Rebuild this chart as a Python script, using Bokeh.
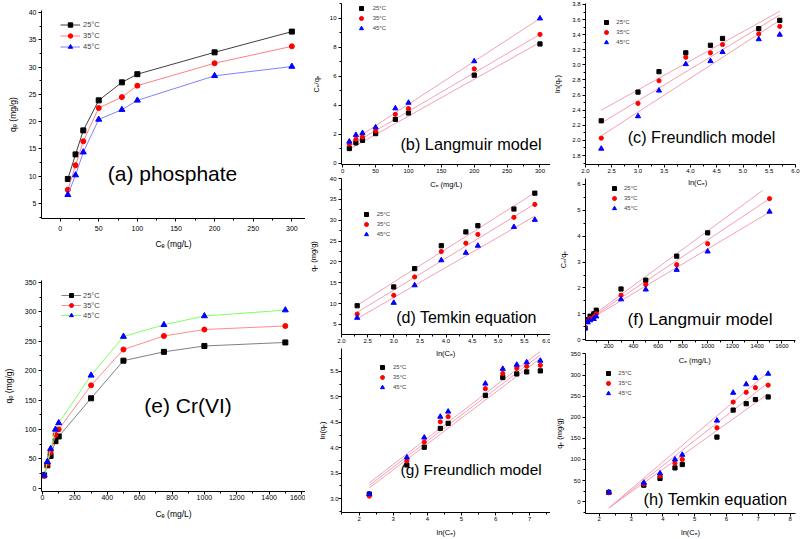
from bokeh.plotting import figure
from bokeh.layouts import row, column
from bokeh.models import Range1d, FixedTicker, Label, Legend, LegendItem, PrintfTickFormatter
from bokeh.embed import file_html
from bokeh.resources import INLINE

# ---------------- data ----------------
temps = ["25°C", "35°C", "45°C"]

# (a) phosphate isotherm  qe vs Ce
ce_p = [10, 20, 30, 50, 80, 100, 200, 300]
qe_p_25 = [9.5, 14.0, 18.4, 23.9, 27.2, 28.7, 32.7, 36.5]
qe_p_35 = [7.5, 12.0, 16.4, 22.5, 24.5, 26.6, 30.7, 33.8]
qe_p_45 = [6.6, 10.2, 14.4, 20.4, 22.2, 23.9, 28.4, 30.1]

# (b) Langmuir, phosphate  Ce/qe vs Ce
lang_p_25 = [1.03, 1.42, 1.60, 2.06, 3.04, 3.48, 6.09, 8.24]
lang_p_35 = [1.33, 1.67, 1.83, 2.24, 3.39, 3.78, 6.52, 8.90]
lang_p_45 = [1.51, 1.97, 2.10, 2.49, 3.80, 4.19, 7.05, 10.0]
b_fit_x = [10, 300]
b_fit_25 = [0.98, 8.35]
b_fit_35 = [1.21, 8.90]
b_fit_45 = [1.42, 10.0]

# (c) Freundlich, phosphate  ln(qe) vs ln(Ce)
lnce_p = [2.30, 3.00, 3.40, 3.91, 4.38, 4.61, 5.30, 5.70]
lnqe_p_25 = [2.26, 2.64, 2.91, 3.16, 3.26, 3.35, 3.48, 3.59]
lnqe_p_35 = [2.03, 2.49, 2.79, 3.10, 3.16, 3.27, 3.41, 3.51]
lnqe_p_45 = [1.89, 2.32, 2.66, 3.01, 3.05, 3.17, 3.34, 3.40]
c_fit_x = [2.3, 5.7]
c_fit_25 = [2.40, 3.71]
c_fit_35 = [2.23, 3.66]
c_fit_45 = [2.06, 3.59]

# (d) Temkin, phosphate  qe vs ln(Ce)
d_fit_x = [2.3, 5.7]
d_fit_25 = [9.6, 36.6]
d_fit_35 = [7.9, 33.9]
d_fit_45 = [6.4, 31.0]

# (e) Cr(VI) isotherm  qe vs Ce
ce_cr = [10, 30, 50, 80, 100, 300, 500, 750, 1000, 1500]
qe_cr_25 = [22, 39, 55, 80, 88, 153, 217, 232, 242, 248]
qe_cr_35 = [21, 42, 61, 91, 100, 175, 236, 259, 270, 276]
qe_cr_45 = [22, 45, 67, 100, 111, 192, 258, 278, 293, 303]

# (f) Langmuir, Cr(VI)  Ce/qe vs Ce
ce_cr_f25 = [10, 30, 50, 80, 100, 300, 500, 750, 1000]
lang_cr_25 = [0.45, 0.77, 0.91, 1.00, 1.14, 1.96, 2.30, 3.23, 4.13]
lang_cr_35 = [0.48, 0.71, 0.82, 0.88, 1.00, 1.72, 2.13, 2.90, 3.71, 5.45]
lang_cr_45 = [0.45, 0.67, 0.75, 0.80, 0.90, 1.56, 1.94, 2.70, 3.41, 4.95]
f_fit_x25 = [10, 1445]
f_fit_25 = [0.72, 5.77]
f_fit_x = [10, 1500]
f_fit_35 = [0.70, 5.45]
f_fit_45 = [0.68, 4.93]

# (g) Freundlich, Cr(VI)  ln(qe) vs ln(Ce)
lnce_cr = [2.30, 3.40, 3.91, 4.38, 4.61, 5.70, 6.21, 6.62, 6.91, 7.31]
lnqe_cr_25 = [3.09, 3.66, 4.01, 4.38, 4.48, 5.03, 5.38, 5.45, 5.49, 5.51]
lnqe_cr_35 = [3.05, 3.74, 4.11, 4.51, 4.61, 5.16, 5.46, 5.56, 5.60, 5.62]
lnqe_cr_45 = [3.09, 3.81, 4.20, 4.61, 4.71, 5.26, 5.55, 5.63, 5.68, 5.71]
g_fit_x = [2.3, 7.3]
g_fit_25 = [3.21, 5.75]
g_fit_35 = [3.26, 5.82]
g_fit_45 = [3.31, 5.89]

# (h) Temkin, Cr(VI)  qe vs ln(Ce)
h_fit_x = [2.3, 7.3]
h_fit_25 = [-15, 255]
h_fit_35 = [-15, 281]
h_fit_45 = [-15, 306]

# tick positions
ticks_a_x = [0, 50, 100, 150, 200, 250, 300]
ticks_a_y = [5, 10, 15, 20, 25, 30, 35, 40]
ticks_e_x = [0, 200, 400, 600, 800, 1000, 1200, 1400, 1600]
ticks_e_y = [0, 50, 100, 150, 200, 250, 300, 350]
ticks_b_x = [0, 50, 100, 150, 200, 250, 300]
ticks_b_y = [0, 2, 4, 6, 8, 10]
ticks_ln_p = [2.0, 2.5, 3.0, 3.5, 4.0, 4.5, 5.0, 5.5, 6.0]
ticks_c_y = [1.8, 2.0, 2.2, 2.4, 2.6, 2.8, 3.0, 3.2, 3.4, 3.6, 3.8]
ticks_d_y = [5, 10, 15, 20, 25, 30, 35, 40]
ticks_f_x = [0, 200, 400, 600, 800, 1000, 1200, 1400, 1600]
ticks_f_y = [0, 1, 2, 3, 4, 5, 6]
ticks_ln_cr = [2, 3, 4, 5, 6, 7, 8]
ticks_g_y = [3.0, 3.5, 4.0, 4.5, 5.0, 5.5]
ticks_h_y = [0, 50, 100, 150, 200, 250, 300, 350]

# ---------------- style ----------------
FONT = "Liberation Sans"
FIT = "#f4a0b4"
MK = [("square", "#000000"), ("circle", "#ff0000"), ("triangle", "#0000ff")]


def minors(t):
    step = t[1] - t[0]
    m = [t[0] - step / 2]
    m += [(a + b) / 2 for a, b in zip(t[:-1], t[1:])]
    m.append(t[-1] + step / 2)
    return m


def base_fig(w, h, bl, br, bt, bb, xr, yr):
    p = figure(width=w, height=h, x_range=Range1d(xr[0], xr[1]),
               y_range=Range1d(yr[0], yr[1]), output_backend="svg",
               toolbar_location=None, min_border_left=bl, min_border_right=br,
               min_border_top=bt, min_border_bottom=bb)
    p.outline_line_color = None
    p.xgrid.visible = False
    p.ygrid.visible = False
    return p


def set_axis(ax, ticks, label, tick_fs, lab_fs, ls, als, fmt=None):
    ax.ticker = FixedTicker(ticks=ticks, minor_ticks=minors(ticks))
    if fmt:
        ax.formatter = PrintfTickFormatter(format=fmt)
    ax.axis_label = label
    ax.axis_line_color = "black"
    ax.axis_line_width = 1
    ax.major_tick_line_color = "black"
    ax.minor_tick_line_color = "black"
    ax.major_tick_in = 0
    ax.major_tick_out = 3
    ax.minor_tick_in = 0
    ax.minor_tick_out = 2
    ax.major_label_text_font = FONT
    ax.major_label_text_font_size = tick_fs
    ax.major_label_text_color = "black"
    ax.major_label_standoff = int(round(ls))
    ax.axis_label_text_font = FONT
    ax.axis_label_text_font_size = lab_fs
    ax.axis_label_text_font_style = "normal"
    ax.axis_label_text_color = "black"
    ax.axis_label_standoff = int(round(als))


def add_legend(p, rends, loc, gw, gh, sp, standoff, fs):
    items = [LegendItem(label=t, renderers=r) for t, r in zip(temps, rends)]
    lg = Legend(items=items, location=loc, orientation="vertical", padding=0,
                spacing=int(sp), margin=0, glyph_width=int(gw),
                glyph_height=int(gh), label_height=int(gh),
                label_standoff=int(standoff), label_text_font=FONT,
                label_text_font_size=fs, border_line_color=None,
                background_fill_alpha=0)
    p.add_layout(lg)


def add_text(p, x, y, text, fs, align="center"):
    p.add_layout(Label(x=x, y=y, x_units="screen", y_units="screen", text=text,
                       text_font=FONT, text_font_size=fs, text_align=align,
                       text_baseline="middle", text_color="black"))


def scatter_sets(p, xs, ys, size):
    out = []
    for x, y, (m, c) in zip(xs, ys, MK):
        sz = size + 1 if m == "triangle" else size
        r = p.scatter(x, y, marker=m, size=sz, fill_color=c, line_color=c)
        out.append([r])
    return out


def fit_lines(p, xs, ys):
    for x, y in zip(xs, ys):
        p.line(x, y, line_color=FIT, line_width=1)


MS = 4.2  # marker size in the fit panels

# ---------------- (a) phosphate ----------------
pa = base_fig(305, 252, 36, 0, 10, 34, (-24.1, 317.7), (2.25, 40.37))
set_axis(pa.xaxis[0], ticks_a_x, "Cₑ (mg/L)", "7px", "8.5px", 4, 5)
set_axis(pa.yaxis[0], ticks_a_y, "qₑ (mg/g)", "7px", "8.5px", 2, 8)
a_line_cols = ["#404040", "#ff8080", "#8080ff"]
rends = []
for y, lc, (m, c) in zip([qe_p_25, qe_p_35, qe_p_45], a_line_cols, MK):
    rl = pa.line(ce_p, y, line_color=lc, line_width=1)
    rs = pa.scatter(ce_p, y, marker=m, size=6 if m == "triangle" else 5,
                    fill_color=c, line_color=c)
    rends.append([rl, rs])
add_legend(pa, rends, (19, 166.5), 20, 11, 0, 3, "7.5px")
add_text(pa, 131, 45, "(a) phosphate", "21px")

# ---------------- (e) Cr(VI) ----------------
pe = base_fig(305, 287, 40, 0, 28, 48, (-6.2, 1624.6), (-5.6, 353.4))
set_axis(pe.xaxis[0], ticks_e_x, "Cₑ (mg/L)", "7px", "8.5px", 0, 6)
set_axis(pe.yaxis[0], ticks_e_y, "qₑ (mg/g)", "7px", "8.5px", 2, 8)
e_line_cols = ["#808080", "#ff8c8c", "#80ff60"]
rends = []
for y, lc, (m, c) in zip([qe_cr_25, qe_cr_35, qe_cr_45], e_line_cols, MK):
    rl = pe.line(ce_cr, y, line_color=lc, line_width=1)
    rs = pe.scatter(ce_cr, y, marker=m, size=6 if m == "triangle" else 5,
                    fill_color=c, line_color=c)
    rends.append([rl, rs])
add_legend(pe, rends, (20, 170.7), 20, 10, 0, 2, "7.5px")
add_text(pe, 146.5, 86, "(e) Cr(VI)", "21px")

# ---------------- (b) Langmuir phosphate ----------------
pb = base_fig(245, 175, 32, 0, 3, 11, (-1.9, 316), (-0.07, 11.03))
set_axis(pb.xaxis[0], ticks_b_x, None, "6px", "7.5px", 1, 0)
set_axis(pb.yaxis[0], ticks_b_y, "Cₑ/qₑ", "6px", "7.5px", 2, 6)
fit_lines(pb, [b_fit_x] * 3, [b_fit_25, b_fit_35, b_fit_45])
rends = scatter_sets(pb, [ce_p] * 3, [lang_p_25, lang_p_35, lang_p_45], MS)
add_legend(pb, rends, (14.7, 131.3), 10, 10, -2, 7, "6px")
add_text(pb, 129.5, 21, "(b) Langmuir model", "16.3px")

# ---------------- (d) Temkin phosphate ----------------
pd_ = base_fig(245, 170, 32, 0, 3, 11, (2.0, 6.0), (2.6, 40.02))
set_axis(pd_.xaxis[0], ticks_ln_p, None, "6px", "7.5px", 1, 0, "%.1f")
set_axis(pd_.yaxis[0], ticks_d_y, "qₑ (mg/g)", "6px", "7.5px", 2, 9)
fit_lines(pd_, [d_fit_x] * 3, [d_fit_25, d_fit_35, d_fit_45])
rends = scatter_sets(pd_, [lnce_p] * 3, [qe_p_25, qe_p_35, qe_p_45], MS)
add_legend(pd_, rends, (19.7, 94.7), 10, 10, -2, 6, "6px")
add_text(pd_, 125, 17, "(d) Temkin equation", "16px")
add_text(pd_, 104.7, 150, "Cₑ (mg/L)", "7.5px")   # x-axis title of (b)

# ---------------- (g) Freundlich Cr(VI) ----------------
pg = base_fig(245, 194, 34, 0, 3, 26, (1.486, 7.608), (2.727, 5.95))
set_axis(pg.xaxis[0], ticks_ln_cr, "ln(Cₑ)", "6px", "7.5px", 1, 4)
set_axis(pg.yaxis[0], ticks_g_y, "ln(qₑ)", "6px", "7.5px", 0, 0, "%.1f")
fit_lines(pg, [g_fit_x] * 3, [g_fit_25, g_fit_35, g_fit_45])
rends = scatter_sets(pg, [lnce_cr] * 3, [lnqe_cr_25, lnqe_cr_35, lnqe_cr_45], MS)
add_legend(pg, rends, (36, 120.3), 10, 10, -2, 6, "6px")
add_text(pg, 59, 43, "(g) Freundlich model", "15.4px", "left")
add_text(pg, 104.3, 158.7, "ln(Cₑ)", "7.5px")   # x-axis title of (d)

# ---------------- (c) Freundlich phosphate ----------------
pc = base_fig(253, 175, 32, 8, 3, 11, (2.0, 6.0), (1.681, 3.813))
set_axis(pc.xaxis[0], ticks_ln_p, None, "6px", "7.5px", 1, 0, "%.1f")
set_axis(pc.yaxis[0], ticks_c_y, "ln(qₑ)", "6px", "7.5px", 2, 7, "%.1f")
fit_lines(pc, [c_fit_x] * 3, [c_fit_25, c_fit_35, c_fit_45])
rends = scatter_sets(pc, [lnce_p] * 3, [lnqe_p_25, lnqe_p_35, lnqe_p_45], MS)
add_legend(pc, rends, (16.3, 116.7), 10, 10, -2, 5, "6px")
add_text(pc, 116, 28, "(c) Freundlich model", "16.2px")

# ---------------- (f) Langmuir Cr(VI) ----------------
pf = base_fig(253, 175, 26, 1, 3, 10, (13, 1710), (-0.03, 6.23))
set_axis(pf.xaxis[0], ticks_f_x, None, "6px", "7.5px", 0, 0)
set_axis(pf.yaxis[0], ticks_f_y, "Cₑ/qₑ", "6px", "7.5px", 2, 6)
fit_lines(pf, [f_fit_x25, f_fit_x, f_fit_x], [f_fit_25, f_fit_35, f_fit_45])
rends = scatter_sets(pf, [ce_cr_f25, ce_cr, ce_cr], [lang_cr_25, lang_cr_35, lang_cr_45], MS)
add_legend(pf, rends, (24, 126.7), 10, 10, -2, 5, "6px")
add_text(pf, 114.5, 22, "(f) Langmuir model", "17.3px")
add_text(pf, 112.3, 158.3, "ln(Cₑ)", "7.5px")   # x-axis title of (c)

# ---------------- (h) Temkin Cr(VI) ----------------
ph = base_fig(253, 189, 29, 6, 3, 26, (1.567, 8.17), (-28.1, 351))
set_axis(ph.xaxis[0], ticks_ln_cr, "ln(Cₑ)", "6px", "7.5px", 0, 4)
set_axis(ph.yaxis[0], ticks_h_y, "qₑ (mg/g)", "6px", "7.5px", 2, 3)
fit_lines(ph, [h_fit_x] * 3, [h_fit_25, h_fit_35, h_fit_45])
rends = scatter_sets(ph, [lnce_cr] * 3, [qe_cr_25, qe_cr_35, qe_cr_45], MS)
add_legend(ph, rends, (18.3, 115.3), 10, 10, -2, 5, "6px")
add_text(ph, 130, 15, "(h) Temkin equation", "16.4px")
add_text(ph, 109.3, 153, "Cₑ (mg/L)", "7.5px")   # x-axis title of (f)

layout = row(column(pa, pe), column(pb, pd_, pg), column(pc, pf, ph))

open("out.html", "w").write(file_html(layout, INLINE))
